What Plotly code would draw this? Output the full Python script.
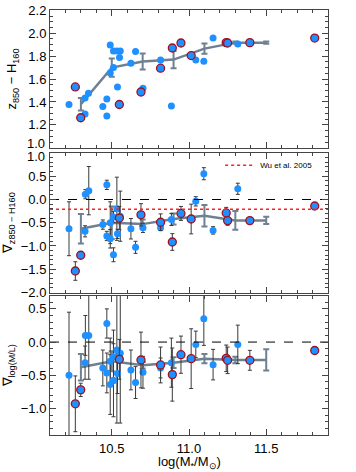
import plotly.graph_objects as go
from plotly.subplots import make_subplots

# --- data ------------------------------------------------------------------
# panel 1: z850 - H160 colour
top_blue_x = [10.223, 10.327, 10.349, 10.327, 10.442, 10.468, 10.468, 10.49, 10.49, 10.511,
              10.511, 10.533, 10.555, 10.55, 10.537, 10.624, 10.654, 10.702, 10.816, 10.886,
              11.044, 11.096, 11.156, 11.316]
top_blue_y = [1.378, 1.435, 1.476, 1.294, 1.36, 1.427, 1.277, 1.897, 1.652, 1.845,
              1.701, 1.845, 1.845, 1.788, 1.531, 1.739, 1.84, 1.519, 1.767, 1.364,
              1.767, 1.756, 1.958, 1.906]
top_red_x = [10.264, 10.299, 10.549, 10.689, 10.816, 10.892, 10.948, 11.014, 11.241, 11.25,
             11.394, 11.814]
top_red_y = [1.531, 1.262, 1.378, 1.487, 1.695, 1.871, 1.915, 1.805, 1.918, 1.915,
             1.918, 1.958]

# panel 2: colour gradient
mid_blue_x = [10.223, 10.327, 10.329, 10.351, 10.442, 10.468, 10.468, 10.49, 10.49, 10.511,
              10.511, 10.533, 10.537, 10.555, 10.624, 10.654, 10.702, 10.816, 10.886, 11.044,
              11.096, 11.156, 11.316]
mid_blue_y = [-0.63, -0.685, 0.115, 0.19, -0.54, 0.315, -0.785, -0.845, -0.5, -0.375,
              -1.19, -0.2, -0.74, -0.36, -0.63, -1.03, -0.61, -0.61, -0.43, -0.04,
              0.555, -0.665, 0.23]
mid_blue_err = [0.58, 0.12, 0.1, 0.52, 0.1, 0.1, 0.1, 0.2, 0.45, 0.12,
                0.15, 0.68, 0.1, 0.54, 0.22, 0.13, 0.1, 0.05, 0.13, 0.1,
                0.13, 0.08, 0.12]
mid_red_x = top_red_x
mid_red_y = [-1.54, -1.2, -0.4, -0.33, -0.49, -0.915, -0.3, -0.42, -0.29, -0.455,
             -0.455, -0.14]
mid_red_err = [0.2, 0.05, 0.25, 0.24, 0.18, 0.18, 0.15, 0.32, 0.12, 0.1,
               0.03, 0.03]

# panel 3: M/L gradient
bot_blue_x = mid_blue_x
bot_blue_y = [-0.5, -0.31, 0.1, 0.1, -0.39, 0.28, -0.465, -0.64, -0.29, -0.22,
              -0.575, -0.12, -0.475, -0.17, -0.42, -0.61, -0.455, -0.39, -0.31, -0.035,
              0.35, -0.34, -0.035]
bot_blue_err = [0.95, 0.25, 0.3, 0.66, 0.27, 0.22, 0.3, 0.45, 0.35, 0.4,
                0.55, 1.1, 0.3, 1.05, 0.3, 0.24, 0.24, 0.15, 0.37, 0.2,
                0.4, 0.23, 0.29]
bot_red_x = top_red_x
bot_red_y = [-0.93, -0.72, -0.26, -0.27, -0.345, -0.49, -0.19, -0.25, -0.245, -0.275,
             -0.275, -0.127]
bot_red_err = [0.42, 0.1, 0.3, 0.42, 0.27, 0.4, 0.28, 0.45, 0.2, 0.2,
               0.15, 0.05]

# binned running means
bin_x = [10.3, 10.5, 10.7, 10.9, 11.1, 11.3, 11.5]
top_bin_y = [1.38, 1.70, 1.753, 1.77, 1.866, 1.918, 1.918]
top_bin_err = [0.055, 0.08, 0.07, 0.075, 0.045, 0.01, 0.01]
mid_bin_y = [-0.63, -0.5, -0.53, -0.42, -0.35, -0.45, -0.45]
mid_bin_err = [0.32, 0.35, 0.1, 0.12, 0.23, 0.2, 0.08]
bot_bin_y = [-0.38, -0.29, -0.35, -0.31, -0.25, -0.27, -0.27]
bot_bin_err = [0.2, 0.15, 0.05, 0.08, 0.07, 0.05, 0.16]

wu_2005 = -0.21

top_ticks = [1.2, 1.4, 1.6, 1.8, 2.0, 2.2]
mid_ticks = [-2.0, -1.5, -1.0, -0.5, 0.0, 0.5]

BLUE = "#1E90FF"
RING = "#A01020"
TREND = "#6F8091"
AXC = "#444444"

fig = make_subplots(rows=3, cols=1, shared_xaxes=True)


def add_panel(row, bx, by, be, rx, ry, re, ty, te):
    fig.add_trace(go.Scatter(
        x=bin_x, y=ty, mode="lines",
        line=dict(color=TREND, width=2.5),
        error_y=dict(type="data", array=te, color=TREND, thickness=2, width=3),
        showlegend=False,
    ), row=row, col=1)
    fig.add_trace(go.Scatter(
        x=bx, y=by, mode="markers",
        marker=dict(color=BLUE, size=7),
        error_y=None if be is None else dict(type="data", array=be, color="#3a3a3a",
                                             thickness=1, width=2),
        showlegend=False,
    ), row=row, col=1)
    fig.add_trace(go.Scatter(
        x=rx, y=ry, mode="markers",
        marker=dict(color=BLUE, size=8, line=dict(color=RING, width=1.3)),
        error_y=None if re is None else dict(type="data", array=re, color="#3a3a3a",
                                             thickness=1, width=2),
        showlegend=False,
    ), row=row, col=1)


add_panel(1, top_blue_x, top_blue_y, None, top_red_x, top_red_y, None, top_bin_y, top_bin_err)
add_panel(2, mid_blue_x, mid_blue_y, mid_blue_err, mid_red_x, mid_red_y, mid_red_err,
          mid_bin_y, mid_bin_err)
add_panel(3, bot_blue_x, bot_blue_y, bot_blue_err, bot_red_x, bot_red_y, bot_red_err,
          bot_bin_y, bot_bin_err)

# reference lines
for row in (2, 3):
    fig.add_trace(go.Scatter(
        x=[10.1, 11.9], y=[0, 0], mode="lines",
        line=dict(color="black", width=1, dash="dash"),
        showlegend=False, hoverinfo="skip",
    ), row=row, col=1)
fig.add_trace(go.Scatter(
    x=[10.1, 11.9], y=[wu_2005, wu_2005], mode="lines",
    line=dict(color="#FF2020", width=1.5, dash="dot"),
    name="Wu et al. 2005",
), row=2, col=1)

font = "Liberation Sans, Arial, Helvetica, sans-serif"
axis_style = dict(
    showline=True, linecolor=AXC, linewidth=1, mirror="ticks", automargin=False,
    ticks="inside", ticklen=6, tickcolor=AXC, showgrid=False, zeroline=False,
    tickfont=dict(size=13, color="black", family=font),
)

fig.update_xaxes(**axis_style, range=[10.1, 11.9], tick0=10.5, dtick=0.5, tickformat=".1f",
                 minor=dict(ticks="inside", ticklen=3, tickcolor=AXC, dtick=0.1))
fig.update_xaxes(ticklabelstandoff=1, row=3, col=1)

fig.update_yaxes(**axis_style)
fig.update_yaxes(range=[0.997, 2.203], tickvals=top_ticks, tickformat=".1f",
                 domain=[0.675, 1.0],
                 minor=dict(ticks="inside", ticklen=3, tickcolor=AXC, dtick=0.05, tick0=1.0),
                 title=dict(text="z<sub>850</sub> − H<sub>160</sub>", font=dict(size=13),
                            standoff=8),
                 row=1, col=1)
fig.update_yaxes(range=[-2.005, 1.005], tickvals=mid_ticks, tickformat=".1f",
                 domain=[0.335, 0.664],
                 minor=dict(ticks="inside", ticklen=3, tickcolor=AXC, dtick=0.1, tick0=0),
                 title=dict(text="∇<sub>z850 − H160</sub>", font=dict(size=13), standoff=8),
                 row=2, col=1)
fig.update_yaxes(range=[-1.4, 0.7], dtick=0.5, tick0=0, tickformat=".1f", domain=[0.0, 0.328],
                 minor=dict(ticks="inside", ticklen=3, tickcolor=AXC, dtick=0.1),
                 title=dict(text="∇<sub>log(M/L)</sub>", font=dict(size=13), standoff=8),
                 row=3, col=1)

# the two "1.0" labels where the top and middle panels meet are nudged apart,
# as in the original; x title placed explicitly
for label_px in (143, 157):
    fig.add_annotation(text="1.0", xref="paper", yref="paper", x=0,
                       y=(435 - label_px) / 425, xanchor="right", yanchor="middle",
                       xshift=-3, showarrow=False, font=dict(size=13, color="black"))
fig.add_annotation(text="log(M<sub>*</sub>/M<sub>⊙</sub>)", xref="paper", yref="paper",
                   x=0.5, y=(435 - 462) / 425, xanchor="center", yanchor="middle",
                   showarrow=False, font=dict(size=13, color="black"))

fig.update_layout(
    width=356, height=472,
    margin=dict(l=50, r=28, t=10, b=37),
    paper_bgcolor="white", plot_bgcolor="white",
    font=dict(family=font, color="black"),
    legend=dict(x=0.612, y=0.635, xanchor="left", yanchor="middle",
                bgcolor="rgba(0,0,0,0)", font=dict(size=8), itemwidth=30),
)

fig.write_html("out.html", config={"displayModeBar": False},
               post_script="document.body.style.margin = '0';")
